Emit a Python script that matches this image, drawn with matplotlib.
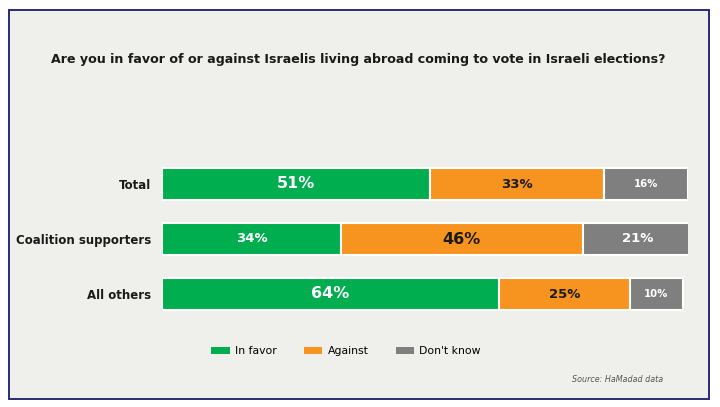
import numpy as np
import matplotlib
matplotlib.use("Agg")
import matplotlib.pyplot as plt
from matplotlib.patches import Rectangle, Patch

groups = ["Total", "Coalition supporters", "All others"]
in_favor = [51, 34, 64]
against = [33, 46, 25]
dont_know = [16, 21, 10]
series_names = ["In favor", "Against", "Don't know"]
colors = ["#00ad4f", "#f7941f", "#7f7f7f"]
title = "Are you in favor of or against Israelis living abroad coming to vote in Israeli elections?"
source = "Source: HaMadad data"

W, H = 720, 407
fig = plt.figure(figsize=(W / 100, H / 100), dpi=100)
fig.patch.set_facecolor("white")

# framed panel
fig.patches.append(Rectangle((9 / W, 1 - 399 / H), 700 / W, 389 / H,
                             transform=fig.transFigure, facecolor="#eff0eb",
                             edgecolor="#2b2b72", lw=1.4, zorder=0))

ax = fig.add_axes([162 / W, 1 - 321.5 / H, 526 / W, 165 / H])
ax.set_zorder(2)
ax.set_facecolor("none")
ax.set_xlim(0, 100)
ax.set_ylim(2.5, -0.5)

y = np.arange(len(groups))
left = np.zeros(len(groups))
series = [in_favor, against, dont_know]
for vals, name, c in zip(series, series_names, colors):
    vals = np.array(vals)
    ax.barh(y, vals, left=left, height=0.57, color=c, edgecolor="white",
            linewidth=1.5, label=name)
    for yi, l, v in zip(y, left, vals):
        if v >= 45:
            fs = 11.5
        elif v >= 20:
            fs = 9.5
        else:
            fs = 7.3
        tc = "#1a1a1a" if c == "#f7941f" else "white"
        ax.text(l + v / 2, yi, f"{v}%", ha="center", va="center",
                color=tc, fontsize=fs, fontweight="bold")
    left += vals

ax.set_yticks(y)
ax.set_yticklabels(groups, fontsize=8.5, fontweight="bold", color="#1a1a1a")
ax.tick_params(axis="y", length=0, pad=8)
ax.set_xticks([])
for s in ax.spines.values():
    s.set_visible(False)

fig.text(358 / W, 1 - 60 / H, title, ha="center", va="center",
         fontsize=9.1, fontweight="bold", color="#1a1a1a")

handles = [Patch(facecolor=c, edgecolor="none") for c in colors]
fig.legend(handles, series_names, loc="center", bbox_to_anchor=(346 / W, 1 - 351 / H),
           ncol=3, frameon=False, fontsize=7.8, handlelength=1.7, handleheight=0.65,
           columnspacing=2.5, handletextpad=0.5)

fig.text(663 / W, 1 - 380 / H, source, ha="right", va="center",
         fontsize=5.8, style="italic", color="#555555")

fig.savefig("out.png", dpi=100, facecolor=fig.get_facecolor())
